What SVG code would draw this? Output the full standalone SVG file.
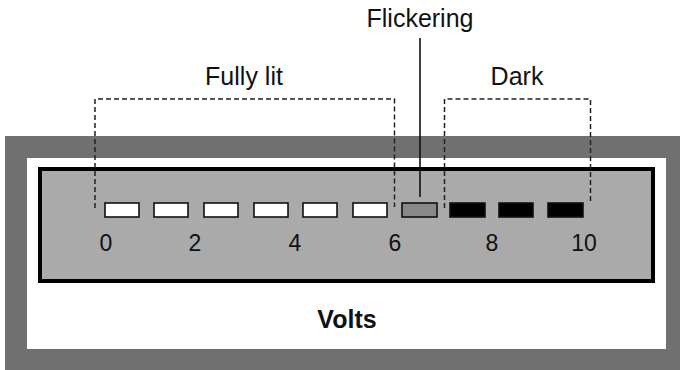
<svg xmlns="http://www.w3.org/2000/svg" width="680" height="370" viewBox="0 0 680 370">
<style>
text{font-family:"Liberation Sans",Arial,sans-serif;fill:#111}
.lbl{font-size:25px;text-anchor:middle}
.num{font-size:23px;text-anchor:middle}
.led{stroke:#111;stroke-width:1.6}
.on{fill:#fff}
.flk{fill:#888}
.off{fill:#000}
.br{fill:none;stroke:#222;stroke-width:1.5;stroke-dasharray:5 3}
</style>
<g id="frame">
<rect x="5" y="136" width="675" height="234" fill="#707070"/>
<rect x="27" y="158" width="639" height="191" fill="#fff"/>
<rect x="40" y="169" width="613" height="112" fill="#aaaaaa" stroke="#000" stroke-width="4"/>
</g>
<g id="leds">
<rect class="led on" x="105" y="203" width="34" height="14"/>
<rect class="led on" x="154" y="203" width="34" height="14"/>
<rect class="led on" x="204" y="203" width="34" height="14"/>
<rect class="led on" x="254" y="203" width="34" height="14"/>
<rect class="led on" x="303" y="203" width="34" height="14"/>
<rect class="led on" x="353" y="203" width="34" height="14"/>
<rect class="led flk" x="402" y="203" width="35" height="14"/>
<rect class="led off" x="450" y="203" width="35" height="14"/>
<rect class="led off" x="499" y="203" width="34" height="14"/>
<rect class="led off" x="548" y="203" width="35" height="14"/>
</g>
<g id="scale">
<text class="num" x="106" y="251">0</text>
<text class="num" x="195" y="251">2</text>
<text class="num" x="295" y="251">4</text>
<text class="num" x="395" y="251">6</text>
<text class="num" x="492" y="251">8</text>
<text class="num" x="584" y="251">10</text>
</g>
<g id="volts"><text x="347" y="328" style="font-size:25px;font-weight:bold;text-anchor:middle">Volts</text></g>
<g id="fully-lit">
<text class="lbl" x="244" y="85">Fully lit</text>
</g>
<g id="flickering">
<text class="lbl" x="420" y="27">Flickering</text>
</g>
<g id="dark">
<text class="lbl" x="517" y="85">Dark</text>
</g>
<g id="connectors">
<path class="br" d="M95,208 V99 H394.5 V207"/>
<path class="br" d="M444.5,208 V99 H590.5 V204"/>
<line x1="420" y1="38" x2="420" y2="197" stroke="#111" stroke-width="1.6"/>
</g>
</svg>
